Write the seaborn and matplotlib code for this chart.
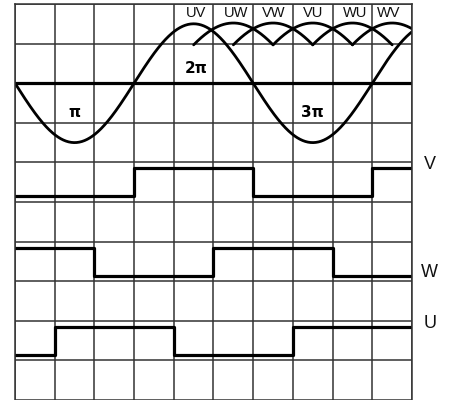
import numpy as np
import pandas as pd
import matplotlib
matplotlib.use("Agg")
import matplotlib.pyplot as plt
from matplotlib import font_manager
import seaborn as sns

# Phase voltage waveform (one period spans six grid columns)
phase_period = 6.0
phase_amplitude = 1.5
baseline = 8.0

# Line-to-line segments of the rectified envelope
envelope_peaks = [5.5, 6.5, 7.5, 8.5, 9.5]
envelope_amplitude = 1.52
envelope_labels = ["UV", "UW", "VW", "VU", "WU", "WV"]
envelope_label_x = [4.57, 5.57, 6.52, 7.5, 8.57, 9.42]

# Hall sensor states per 60-degree step
step_edges = [0, 1, 2, 3, 4, 5, 6, 7, 8, 9, 10]
hall_v = [0, 0, 0, 1, 1, 1, 0, 0, 0, 1]
hall_w = [1, 1, 0, 0, 0, 1, 1, 1, 0, 0]
hall_u = [0, 1, 1, 1, 0, 0, 0, 1, 1, 1]
hall_names = ["V", "W", "U"]
hall_low = [5.15, 3.13, 1.14]
hall_high = [5.86, 3.84, 1.84]

angle_labels = ["\u03c0", "2\u03c0", "3\u03c0"]
angle_pos = [(1.49, 7.25), (4.56, 8.38), (7.5, 7.27)]

sns.set_style("white")
available = {f.name for f in font_manager.fontManager.ttflist}
narrow = "Liberation Sans Narrow" if "Liberation Sans Narrow" in available else "Liberation Sans"
plt.rcParams["font.family"] = [narrow, "DejaVu Sans"]

fig = plt.figure(figsize=(4.51, 4.00), dpi=100)
ax = fig.add_axes([15 / 451, 0, 397 / 451, 396 / 400])
ax.set_xlim(0, 10)
ax.set_ylim(0, 10)

# grid
ax.set_xticks(range(11))
ax.set_yticks(range(11))
ax.tick_params(length=0, labelbottom=False, labelleft=False)
ax.grid(True, color="#333333", linewidth=1.1)
for side in ["left", "right", "top"]:
    ax.spines[side].set_color("#333333")
    ax.spines[side].set_linewidth(1.1)
ax.spines["bottom"].set_visible(False)

ink = "black"

# zero line of the phase voltage
sns.lineplot(x=[0, 10], y=[baseline, baseline], ax=ax, color=ink, linewidth=2.3)

# phase voltage
xs = np.linspace(0, 10, 600)
sine = pd.DataFrame({"x": xs, "y": baseline - phase_amplitude * np.sin(2 * np.pi * xs / phase_period)})
sns.lineplot(data=sine, x="x", y="y", ax=ax, color=ink, linewidth=2.0)

# rectified envelope arcs
k = 0.88
for p in envelope_peaks:
    xa = np.linspace(p - 1, min(p + 1, 10), 200)
    arc = pd.DataFrame({"x": xa, "y": baseline + envelope_amplitude * np.cos(k * (xa - p))})
    sns.lineplot(data=arc, x="x", y="y", ax=ax, color=ink, linewidth=2.0)

for lab, lx in zip(envelope_labels, envelope_label_x):
    ax.text(lx, 9.77, lab, ha="center", va="center", fontsize=10.5, color="#111")

# hall sensor square waves
for states, lo, hi, name in zip([hall_v, hall_w, hall_u], hall_low, hall_high, hall_names):
    levels = [hi if s else lo for s in states]
    levels = levels + [levels[-1]]
    sq = pd.DataFrame({"x": step_edges, "y": levels})
    sns.lineplot(data=sq, x="x", y="y", ax=ax, color=ink, linewidth=2.3,
                 drawstyle="steps-post")
    ax.text(10.45, levels[-1] + 0.08, name, ha="center", va="center",
            fontsize=13, color="#111", clip_on=False)

for lab, (tx, ty) in zip(angle_labels, angle_pos):
    ax.text(tx, ty, lab, ha="center", va="center", fontsize=11,
            fontweight="bold", color=ink, family=["DejaVu Sans"])

fig.savefig("out.png", dpi=100)
